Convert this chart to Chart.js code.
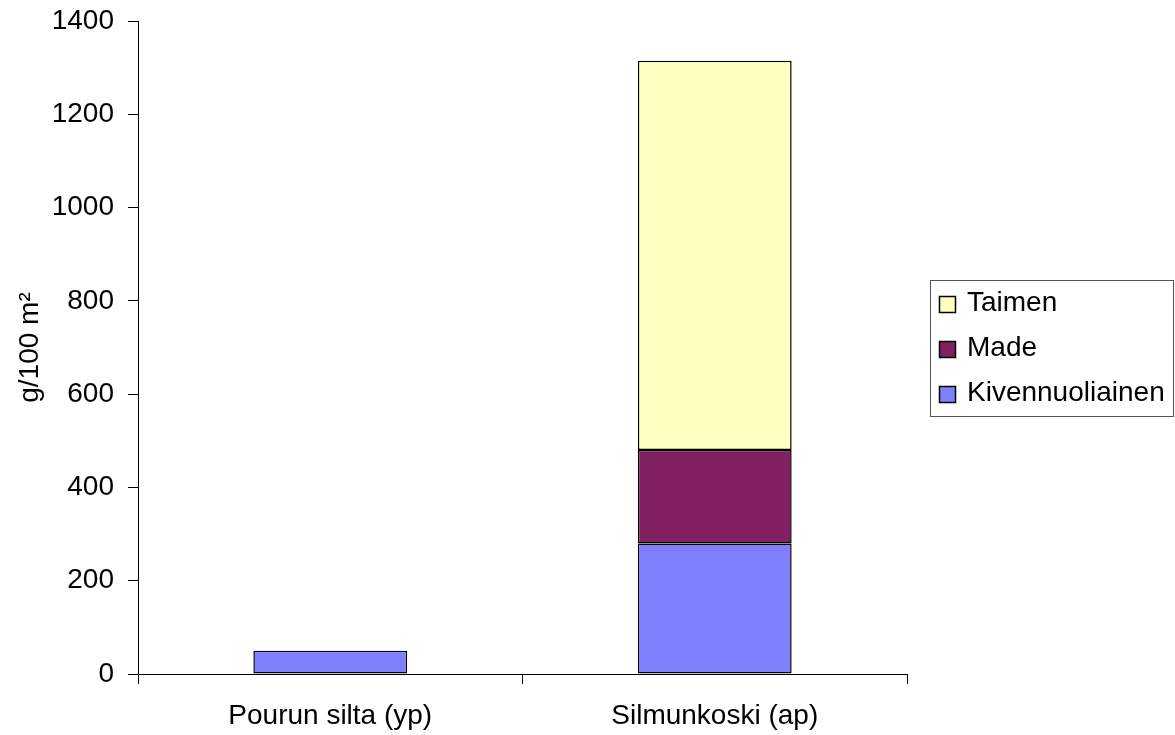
<!DOCTYPE html>
<html>
<head>
<meta charset="utf-8">
<script src="https://cdn.jsdelivr.net/npm/chart.js@4/dist/chart.umd.min.js"></script>
<style>
  html, body { margin: 0; padding: 0; background: #ffffff; }
  #wrap { width: 1175px; height: 735px; }
</style>
</head>
<body>
<div id="wrap"><canvas id="c" width="1175" height="735"></canvas></div>
<script>
// Fish biomass per site (g/100 m²), stacked by species
const sites = ['Pourun silta (yp)', 'Silmunkoski (ap)'];
const kivennuoliainen = [50, 280];
const made = [0, 200];
const taimen = [0, 835];
const yTicks = [0, 200, 400, 600, 800, 1000, 1200, 1400];

const FONT = 'Liberation Sans, Arial, sans-serif';
const FONT_SIZE = 28;

// Boxed legend to the right of the plot, Excel style
const boxedLegend = {
  id: 'boxedLegend',
  afterDraw(chart) {
    const ctx = chart.ctx;
    const area = chart.chartArea;
    const items = chart.data.datasets.slice().reverse();
    const left = area.right + 23;
    const width = 243;
    const rowH = 45;
    const height = items.length * rowH + 1;
    const midY = (area.top + area.bottom) / 2;
    const top = Math.round(midY - height / 2) + 0.5;
    ctx.save();
    ctx.lineWidth = 1;
    ctx.strokeStyle = '#555555';
    ctx.strokeRect(left + 0.5, top, width, height);
    ctx.font = FONT_SIZE + 'px ' + FONT;
    ctx.textBaseline = 'middle';
    ctx.textAlign = 'left';
    items.forEach((ds, i) => {
      const cy = top + rowH / 2 + i * rowH;
      const sy = Math.round(cy - 7) + 0.5;
      ctx.fillStyle = ds.backgroundColor;
      ctx.fillRect(left + 9.5, sy, 16, 16);
      ctx.lineWidth = 1.5;
      ctx.strokeStyle = '#000000';
      ctx.strokeRect(left + 9.5, sy, 16, 16);
      ctx.fillStyle = '#000000';
      ctx.fillText(ds.label, left + 37, cy);
    });
    ctx.restore();
  }
};

new Chart(document.getElementById('c'), {
  type: 'bar',
  data: {
    labels: sites,
    datasets: [
      { label: 'Kivennuoliainen', data: kivennuoliainen, backgroundColor: '#8080FF' },
      { label: 'Made', data: made, backgroundColor: '#802060' },
      { label: 'Taimen', data: taimen, backgroundColor: '#FFFFC0' }
    ]
  },
  options: {
    responsive: false,
    animation: false,
    devicePixelRatio: 1,
    layout: { padding: { top: 21, right: 268, bottom: 0, left: 0 } },
    datasets: {
      bar: {
        borderColor: '#000000',
        borderWidth: 1.5,
        borderSkipped: false,
        barPercentage: 0.4,
        categoryPercentage: 1.0
      }
    },
    plugins: {
      legend: { display: false },
      tooltip: { enabled: false }
    },
    scales: {
      x: {
        stacked: true,
        grid: {
          display: true,
          drawOnChartArea: false,
          offset: true,
          tickLength: 10,
          tickColor: '#000000',
          color: '#000000'
        },
        border: { color: '#000000', width: 1 },
        ticks: {
          color: '#000000',
          font: { family: FONT, size: FONT_SIZE },
          padding: 15,
          maxRotation: 0,
          autoSkip: false
        },
        afterFit(scale) {
          scale.height = 61;
          scale.paddingLeft = 0;
          scale.paddingRight = 0;
        }
      },
      y: {
        stacked: true,
        min: 0,
        max: 1400,
        afterBuildTicks(scale) { scale.ticks = yTicks.map(v => ({ value: v })); },
        grid: {
          display: true,
          drawOnChartArea: false,
          tickLength: 10,
          tickColor: '#000000'
        },
        border: { color: '#000000', width: 1 },
        ticks: {
          color: '#000000',
          font: { family: FONT, size: FONT_SIZE },
          padding: 14,
          callback: (v) => String(v)
        },
        title: {
          display: true,
          text: 'g/100 m²',
          color: '#000000',
          font: { family: FONT, size: FONT_SIZE },
          padding: { top: 13, bottom: 0 }
        },
        afterFit(scale) {
          scale.width = 138;
          scale.paddingTop = 0;
          scale.paddingBottom = 0;
        }
      }
    }
  },
  plugins: [boxedLegend]
});
</script>
</body>
</html>
